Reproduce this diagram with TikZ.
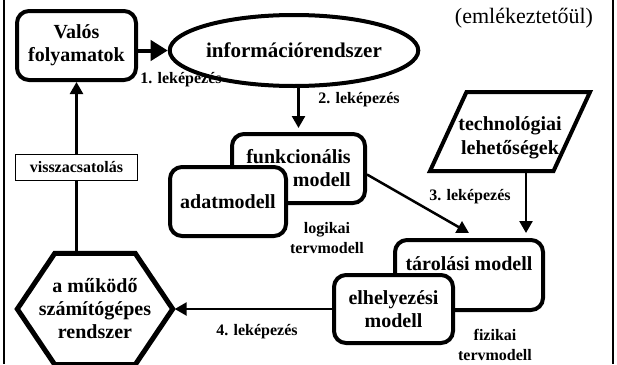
\documentclass[tikz,border=0pt]{standalone}
\usepackage{fontspec}
\setmainfont{Liberation Serif}
\usetikzlibrary{positioning,shapes.geometric,arrows.meta}

\begin{document}
\begin{tikzpicture}[x=1pt,y=-1pt,
  big/.style={font=\fontsize{20}{23}\selectfont\bfseries,align=center},
  box/.style={big,draw,line width=4pt,rounded corners=12pt,fill=white,inner sep=2pt},
  lbl/.style={font=\fontsize{16}{20}\selectfont\bfseries,align=center,inner sep=0pt},
  arr/.style={-{Triangle[length=12pt,width=13pt]},line width=2.5pt}]
  \useasboundingbox (0,0) rectangle (617,364);
  % side lines of the slide
  \draw[line width=1.5pt] (4,0) -- (4,364);
  \draw[line width=2pt] (613,0) -- (613,364);
  \node[font=\fontsize{22}{26}\selectfont] (emlek) at (524,18) {(emlékeztetőül)};
  % shapes
  \node[box,minimum width=119pt,minimum height=69pt] (valos) at (76.5,45.5) {Valós\\folyamatok};
  \node[big,font=\fontsize{21}{24}\selectfont\bfseries,draw,ellipse,line width=4pt,fill=white,inner sep=0pt,
    minimum width=184pt,minimum height=71pt] (info) at (294,50.5) {információrendszer};
  \node[box,minimum width=133pt,minimum height=69pt,align=right] (funk) at (298.5,168.5) {funkcionális\\modell};
  \node[box,minimum width=116pt,minimum height=69pt] (adat) at (228,201.5) {adatmodell};
  \node[lbl] (logi) at (327,238) {logikai\\tervmodell};
  \node[draw,trapezium,trapezium left angle=66,trapezium right angle=114,trapezium stretches=true,
    line width=4pt,inner sep=1pt,minimum width=160pt,minimum height=79pt,
    label={[big,font=\fontsize{20}{24}\selectfont\bfseries,anchor=center,yshift=-6pt]center:technológiai\\lehetőségek}] (techno) at (510,131.5) {\phantom{x}};
  \node[box,minimum width=148pt,minimum height=70pt,text height=14pt,text depth=24pt] (taro) at (469,275) {tárolási modell};
  \node[box,minimum width=119pt,minimum height=68pt] (elhely) at (393.5,309) {elhelyezési\\modell};
  \node[lbl] (fizi) at (495,345) {fizikai\\tervmodell};
  \node[big,inner sep=0pt,minimum width=155pt,minimum height=111pt] (rendszer) at (95,309) {a működő\\számítógépes\\rendszer};
  \draw[line width=5pt] (rendszer.west) -- ([xshift=37.5pt]rendszer.north west)
    -- ([xshift=-37.5pt]rendszer.north east) -- (rendszer.east)
    -- ([xshift=-37.5pt]rendszer.south east) -- ([xshift=37.5pt]rendszer.south west) -- cycle;
  % mappings
  \draw[-{Triangle[length=17pt,width=20pt]},line width=4pt] (valos.east |- info.west) -- (info.west);
  \draw[arr,shorten >=4pt] (info.south -| funk.north) -- (funk.north);
  \draw[arr] ([yshift=-6pt]funk.east) -- ([yshift=5pt]taro.north);
  \coordinate (tk) at ([xshift=16pt]techno.south);
  \draw[arr,shorten >=5pt] (tk) -- (tk |- taro.north);
  \draw[arr,shorten >=2pt] (elhely.west) -- (rendszer.east);
  \draw[arr,shorten <=2pt] (rendszer.north -| valos.south) -- (valos.south);
  \node[draw,fill=white,line width=0.8pt,minimum width=122pt,minimum height=26pt,inner sep=0pt,
    font=\fontsize{16}{19}\selectfont\bfseries] (vissza) at (76.5,167) {visszacsatolás};
  \foreach \i/\x/\y in {1/181/80,2/359/100,3/470/197,4/257/332}
    \node[lbl] (map\i) at (\x,\y) {\i. leképezés};
\end{tikzpicture}
\end{document}
